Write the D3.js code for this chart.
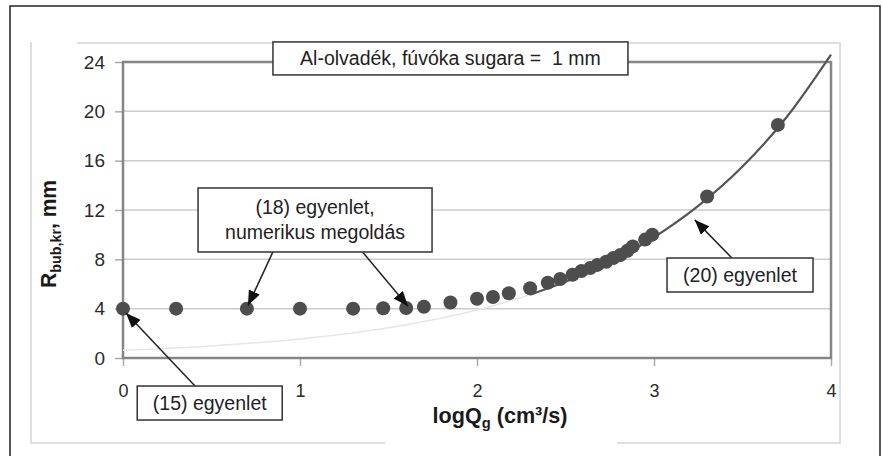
<!doctype html>
<html>
<head>
<meta charset="utf-8">
<title>Rbub,kr vs logQg</title>
<script src="https://cdn.jsdelivr.net/npm/d3@7"></script>
<style>
  body { margin: 0; background: #fff; }
  text { font-family: "Liberation Sans", Arial, sans-serif; }
</style>
</head>
<body>
<div id="chart-area"></div>
<script>
// measured points (logQg, Rbub,kr in mm)
var pointX = [0, 0.3, 0.7, 1.0, 1.3, 1.47, 1.6, 1.7, 1.85, 2.0, 2.09, 2.18, 2.3, 2.4, 2.47, 2.54, 2.59, 2.64, 2.68, 2.73, 2.77, 2.81, 2.85, 2.88, 2.95, 2.99, 3.3, 3.7];
var pointY = [4.0, 4.0, 4.0, 4.0, 4.0, 4.03, 4.05, 4.15, 4.5, 4.8, 4.95, 5.25, 5.65, 6.1, 6.4, 6.75, 7.05, 7.3, 7.55, 7.8, 8.1, 8.35, 8.7, 9.05, 9.6, 10.0, 13.1, 18.9];

// (20) egyenlet curve
var curveX = [0, 0.5, 1, 1.5, 2, 2.3, 2.5, 2.75, 3, 3.25, 3.5, 3.75, 4];
var curveY = [0.62, 0.98, 1.55, 2.46, 3.9, 5.14, 6.18, 7.78, 9.79, 12.33, 15.52, 19.54, 24.6];

var xTicks = [0, 1, 2, 3, 4];
var yTicks = [0, 4, 8, 12, 16, 20, 24];

var titleText = "Al-olvadék, fúvóka sugara =\u00a0 1 mm";

var W = 882, H = 456;
var svg = d3.select("#chart-area").append("svg").attr("width", W).attr("height", H);

// outer frame and light chart-area frame
svg.append("rect").attr("x", 10).attr("y", 6).attr("width", 870).attr("height", 470)
    .attr("fill", "#fff").attr("stroke", "#222").attr("stroke-width", 1.5);
svg.append("rect").attr("x", 31).attr("y", 43).attr("width", 809).attr("height", 400)
    .attr("fill", "none").attr("stroke", "#d4d4d4").attr("stroke-width", 1.5);
// pasted white patches behind the axis titles
svg.append("rect").attr("x", 32).attr("y", 25).attr("width", 45).attr("height", 30).attr("fill", "#fff");
svg.append("rect").attr("x", 385).attr("y", 397).attr("width", 232).attr("height", 50).attr("fill", "#fff");

var x = d3.scaleLinear().domain([0, 4]).range([123, 831]);
var y = d3.scaleLinear().domain([0, 24]).range([358, 62]);

// grid
svg.append("g").selectAll("line").data(yTicks).enter().append("line")
    .attr("x1", x(0)).attr("x2", x(4))
    .attr("y1", function(d){ return y(d); }).attr("y2", function(d){ return y(d); })
    .attr("stroke", "#cccccc").attr("stroke-width", 1.5);

// axes
var yAxis = svg.append("g").attr("transform", "translate(" + x(0) + ",0)")
    .call(d3.axisLeft(y).tickValues(yTicks).tickSize(8).tickPadding(10));
var xAxis = svg.append("g").attr("transform", "translate(0," + y(0) + ")")
    .call(d3.axisBottom(x).tickValues(xTicks).tickSize(8).tickPadding(18).tickFormat(d3.format("d")));
[xAxis, yAxis].forEach(function(a){
    a.select(".domain").remove();
    a.selectAll("line").attr("stroke", "#aaa").attr("stroke-width", 1.5);
    a.selectAll("text").attr("fill", "#2a2a2a")
        .attr("font-family", "'Liberation Sans', Arial, sans-serif");
});
yAxis.selectAll("text").attr("font-size", 19);
xAxis.selectAll("text").attr("font-size", 18);

// plot border
svg.append("rect").attr("x", x(0)).attr("y", y(24))
    .attr("width", x(4) - x(0)).attr("height", y(0) - y(24))
    .attr("fill", "none").attr("stroke", "#858585").attr("stroke-width", 2.5);

// curve
var curve = curveX.map(function(d, i){ return [d, curveY[i]]; });
var line = d3.line().x(function(d){ return x(d[0]); }).y(function(d){ return y(d[1]); }).curve(d3.curveMonotoneX);
svg.append("path").datum(curve).attr("d", line)
    .attr("fill", "none").attr("stroke", "#e6e6e6").attr("stroke-width", 1.5);
svg.append("path").datum(curve.filter(function(d){ return d[0] >= 2.3; })).attr("d", line)
    .attr("fill", "none").attr("stroke", "#555").attr("stroke-width", 2.2);

// points
svg.append("g").selectAll("circle").data(pointX).enter().append("circle")
    .attr("cx", function(d){ return x(d); })
    .attr("cy", function(d, i){ return y(pointY[i]); })
    .attr("r", 7).attr("fill", "#4d4d4d");

// arrow head
svg.append("defs").append("marker").attr("id", "arr")
    .attr("viewBox", "0 0 15 12").attr("refX", 15).attr("refY", 6)
    .attr("markerWidth", 15).attr("markerHeight", 12).attr("markerUnits", "userSpaceOnUse")
    .attr("orient", "auto")
    .append("path").attr("d", "M0,0 L15,6 L0,12 Z").attr("fill", "#111");

// annotations: arrows [fromX, fromY, toX, toY] in data units
var arrows = [[0.847, 8.6, 0.706, 4.25], [1.339, 8.84, 1.61, 4.2], [0.407, -2.27, 0.017, 3.65], [3.44, 8.11, 3.23, 11.2]];
svg.append("g").selectAll("line").data(arrows).enter().append("line")
    .attr("x1", function(d){ return x(d[0]); }).attr("y1", function(d){ return y(d[1]); })
    .attr("x2", function(d){ return x(d[2]); }).attr("y2", function(d){ return y(d[3]); })
    .attr("stroke", "#222").attr("stroke-width", 1.5).attr("marker-end", "url(#arr)");

// boxes: centre in data units, size in px
var boxes = [
    { cx: 1.85, cy: 24.29, w: 355, h: 33, lines: [titleText] },
    { cx: 1.085, cy: 11.19, w: 234, h: 64, lines: ["(18) egyenlet,", "numerikus megoldás"] },
    { cx: 0.49, cy: -3.65, w: 145, h: 34, lines: ["(15) egyenlet"] },
    { cx: 3.486, cy: 6.73, w: 146, h: 34, lines: ["(20) egyenlet"] }
];
boxes.forEach(function(b){
    var g = svg.append("g").attr("transform", "translate(" + x(b.cx) + "," + y(b.cy) + ")");
    g.append("rect").attr("x", -b.w / 2).attr("y", -b.h / 2).attr("width", b.w).attr("height", b.h)
        .attr("fill", "#fff").attr("stroke", "#333").attr("stroke-width", 1.5);
    b.lines.forEach(function(t, i){
        g.append("text").attr("text-anchor", "middle")
            .attr("y", 7 + (i - (b.lines.length - 1) / 2) * 25)
            .attr("font-size", 19.5).attr("fill", "#222").text(t);
    });
});

// axis titles
var xt = svg.append("text").attr("x", 500).attr("y", 423).attr("text-anchor", "middle")
    .attr("font-family", "'DejaVu Sans Condensed', sans-serif").attr("font-weight", "bold")
    .attr("font-size", 22).attr("fill", "#1a1a1a")
    .attr("textLength", 135).attr("lengthAdjust", "spacingAndGlyphs");
xt.append("tspan").text("logQ");
xt.append("tspan").attr("font-size", 15).attr("dy", 5).text("g");
xt.append("tspan").attr("dy", -5).text(" (cm³/s)");

var yt = svg.append("text").attr("transform", "translate(56,234) rotate(-90)").attr("text-anchor", "middle")
    .attr("font-family", "'DejaVu Sans Condensed', sans-serif").attr("font-weight", "bold")
    .attr("font-size", 22).attr("fill", "#1a1a1a")
    .attr("textLength", 108).attr("lengthAdjust", "spacingAndGlyphs");
yt.append("tspan").text("R");
yt.append("tspan").attr("font-size", 15).attr("dy", 5).text("bub,kr");
yt.append("tspan").attr("dy", -5).text(", mm");
</script>
</body>
</html>
